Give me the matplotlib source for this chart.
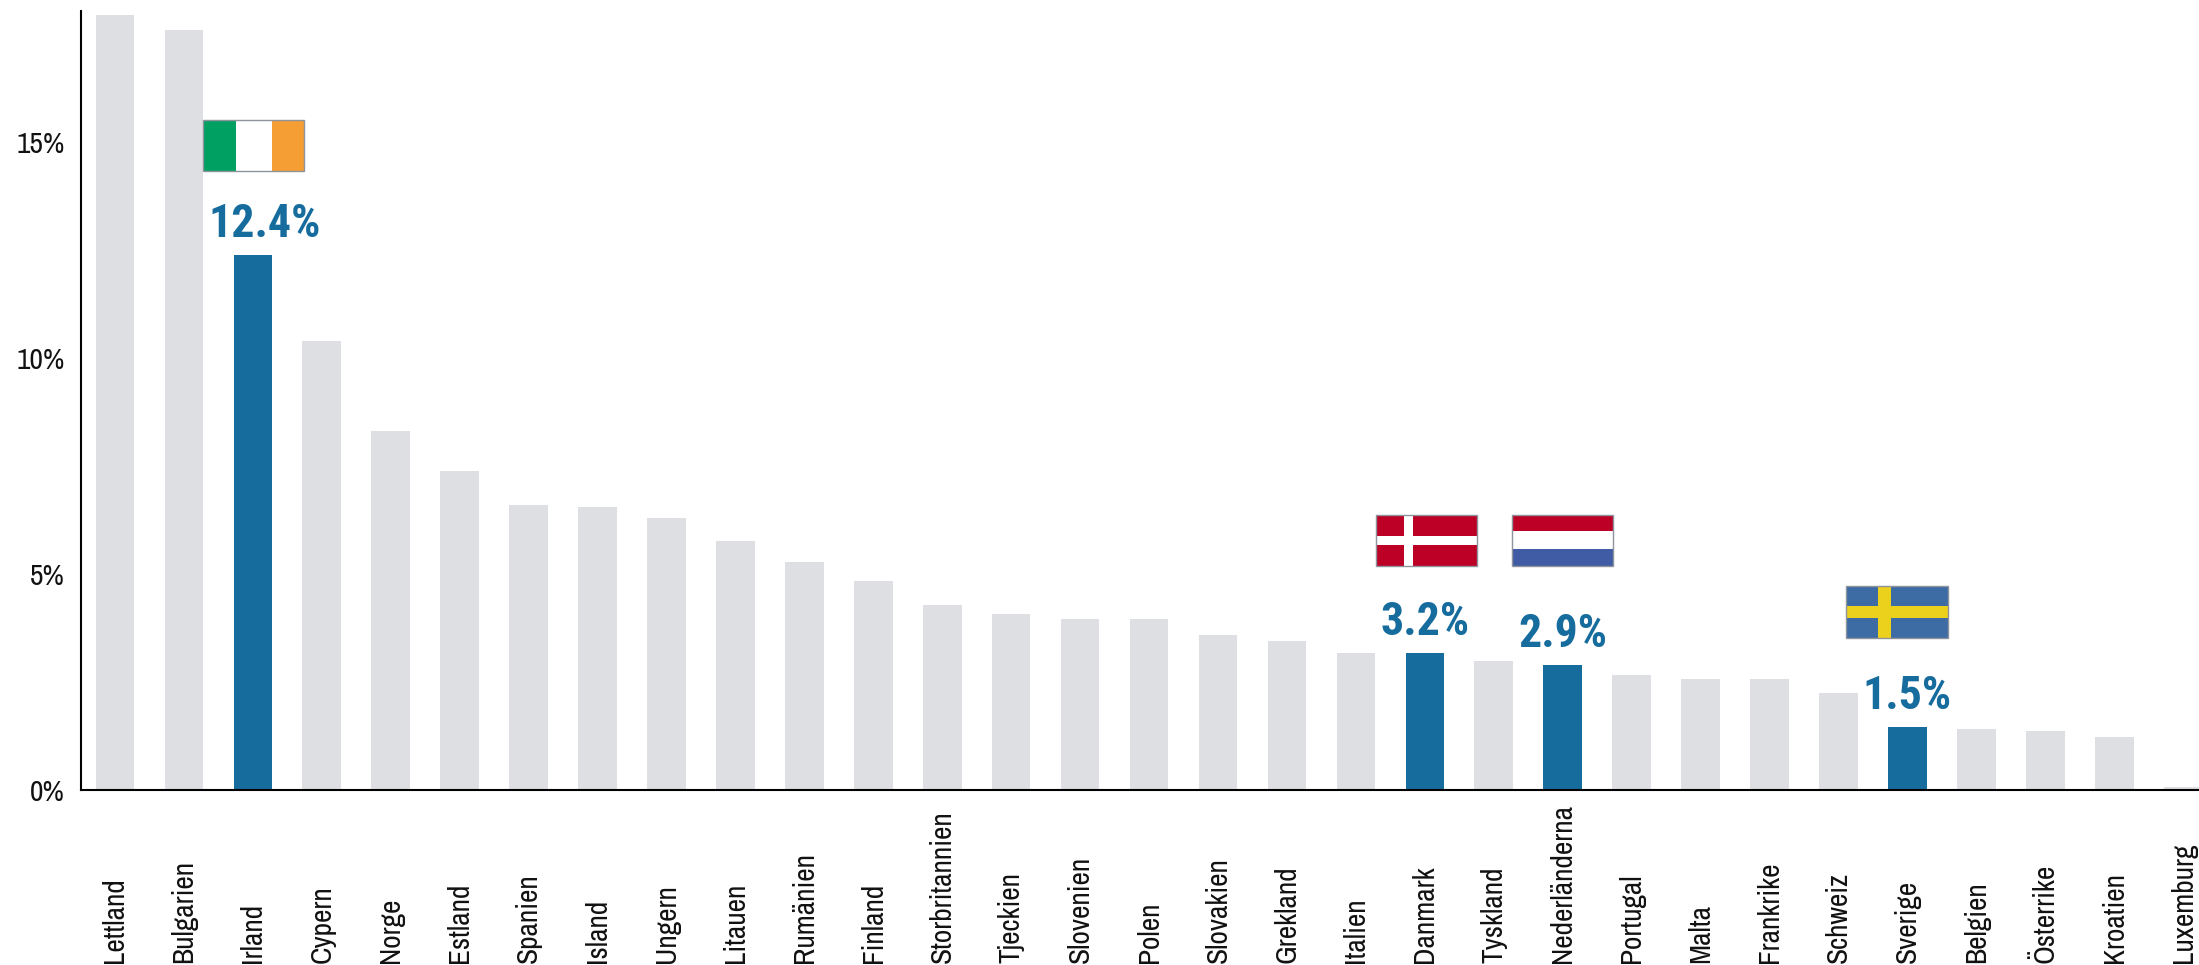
import matplotlib
matplotlib.use("Agg")
import matplotlib.pyplot as plt
from matplotlib.patches import Rectangle

countries = ["Lettland", "Bulgarien", "Irland", "Cypern", "Norge", "Estland", "Spanien", "Island",
             "Ungern", "Litauen", "Rumänien", "Finland", "Storbritannien", "Tjeckien", "Slovenien",
             "Polen", "Slovakien", "Grekland", "Italien", "Danmark", "Tyskland", "Nederländerna",
             "Portugal", "Malta", "Frankrike", "Schweiz", "Sverige", "Belgien", "Österrike",
             "Kroatien", "Luxemburg"]
values = [17.94, 17.6, 12.38, 10.4, 8.3, 7.38, 6.6, 6.55, 6.3, 5.76, 5.27, 4.84, 4.28, 4.07, 3.96,
          3.96, 3.59, 3.45, 3.17, 3.17, 2.99, 2.89, 2.66, 2.57, 2.57, 2.25, 1.46, 1.41, 1.37, 1.23, 0.07]
highlight = {"Irland": "12.4%", "Danmark": "3.2%", "Nederländerna": "2.9%", "Sverige": "1.5%"}
yticks = [0, 5, 10, 15]
ytick_labels = ["0%", "5%", "10%", "15%"]

GRAY = "#DEDFE2"
BLUE = "#176C9E"
W, H = 2199, 965
FONT = ["Archivo Narrow", "Liberation Sans", "DejaVu Sans"]
BOLD_FONT = ["Roboto Condensed", "Liberation Sans", "DejaVu Sans"]

fig = plt.figure(figsize=(W / 100, H / 100), dpi=100, facecolor="white")
ax = fig.add_axes([81 / W, 1 - 790 / H, (W - 81) / W, 779 / H])

positions = list(range(len(countries)))
colors = [BLUE if c in highlight else GRAY for c in countries]
ax.bar(positions, values, width=0.56, color=colors, linewidth=0, zorder=2)
ax.set_xlim(-0.493, 30.23)
ax.set_ylim(0, 18.03)

for s in ("top", "right"):
    ax.spines[s].set_visible(False)
for s in ("left", "bottom"):
    ax.spines[s].set_linewidth(1.5)
    ax.spines[s].set_color("black")
    ax.spines[s].set_zorder(3)

ax.set_yticks(yticks)
ax.set_yticklabels(ytick_labels, family=FONT, fontsize=21.2, color="#111111")
ax.tick_params(axis="y", length=0, pad=11.5)
ax.set_xticks(positions)
ax.set_xticklabels(countries, family=FONT, fontsize=21.2, rotation=90, va="bottom", ha="center", color="#111111")
ax.tick_params(axis="x", length=0, pad=124.6)

for i, c in enumerate(countries):
    if c in highlight:
        dx = 8.6 if c == "Irland" else 0
        ax.annotate(highlight[c], (i, values[i]), xytext=(dx, 13), textcoords="offset points",
                    ha="center", va="baseline", family=BOLD_FONT, fontsize=33, fontweight="bold", color=BLUE)


def rect(x0, y0, x1, y1, color):
    fig.add_artist(Rectangle((x0 / W, 1 - y1 / H), (x1 - x0) / W, (y1 - y0) / H,
                             transform=fig.transFigure, facecolor=color, linewidth=0))


def border(x0, y0, x1, y1):
    fig.add_artist(Rectangle((x0 / W, 1 - y1 / H), (x1 - x0) / W, (y1 - y0) / H,
                             transform=fig.transFigure, facecolor="none", edgecolor="#8E939C", linewidth=1.0))


# Ireland
rect(203, 120, 304, 171, "white")
rect(203, 120, 236, 171, "#009F62")
rect(272, 120, 304, 171, "#F59E33")
border(203, 120, 304, 171)
# Denmark
rect(1376, 515, 1477, 566, "#BC0026")
rect(1404, 515, 1413, 566, "white")
rect(1376, 536, 1477, 545, "white")
border(1376, 515, 1477, 566)
# Netherlands
rect(1512, 515, 1613, 566, "white")
rect(1512, 515, 1613, 531, "#BC0026")
rect(1512, 549, 1613, 566, "#3F5CA4")
border(1512, 515, 1613, 566)
# Sweden
rect(1846, 586, 1948, 638, "#3D6BA3")
rect(1878, 586, 1891, 638, "#EBD11B")
rect(1846, 606, 1948, 618, "#EBD11B")
border(1846, 586, 1948, 638)

fig.savefig("out.png", dpi=100, facecolor="white")
